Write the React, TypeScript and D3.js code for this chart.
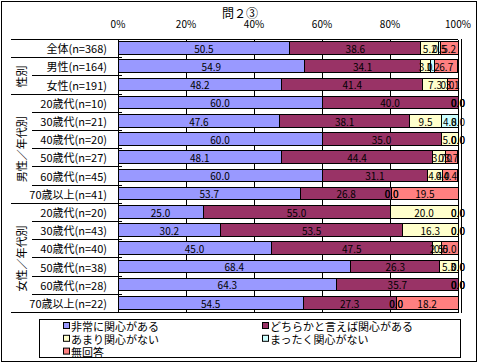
import React from 'react';
import * as d3 from 'd3';

const categories = [
  '全体(n=368)', '男性(n=164)', '女性(n=191)',
  '20歳代(n=10)', '30歳代(n=21)', '40歳代(n=20)', '50歳代(n=27)', '60歳代(n=45)', '70歳以上(n=41)',
  '20歳代(n=20)', '30歳代(n=43)', '40歳代(n=40)', '50歳代(n=38)', '60歳代(n=28)', '70歳以上(n=22)',
];

const seriesNames = ['非常に関心がある', 'どちらかと言えば関心がある', 'あまり関心がない', 'まったく関心がない', '無回答'];
const seriesColors = ['#9999FF', '#993366', '#FFFFCC', '#CCFFFF', '#FF8080'];

const veryInterested = [50.5, 54.9, 48.2, 60.0, 47.6, 60.0, 48.1, 60.0, 53.7, 25.0, 30.2, 45.0, 68.4, 64.3, 54.5];
const somewhatInterested = [38.6, 34.1, 41.4, 40.0, 38.1, 35.0, 44.4, 31.1, 26.8, 55.0, 53.5, 47.5, 26.3, 35.7, 27.3];
const notVery = [5.2, 3.0, 7.3, 0.0, 9.5, 5.0, 3.7, 4.4, 0.0, 20.0, 16.3, 2.5, 5.3, 0.0, 0.0];
const notAtAll = [0.5, 1.2, 0.0, 0.0, 4.8, 0.0, 0.0, 0.0, 0.0, 0.0, 0.0, 0.0, 0.0, 0.0, 0.0];
const noAnswer = [5.2, 6.7, 3.1, 0.0, 0.0, 0.0, 3.7, 4.4, 19.5, 0.0, 0.0, 5.0, 0.0, 0.0, 18.2];

const groupLabels = ['性別', '男性／年代別', '女性／年代別'];
const groupStart = [1, 3, 9];
const groupEnd = [2, 8, 14];

const ticks = [0, 20, 40, 60, 80, 100];

const W = 480;
const H = 364;
const font = '"Noto Sans CJK JP", sans-serif';

export default function App() {
  const x = d3.scaleLinear().domain([0, 100]).range([118, 458]);
  const y = d3.scaleBand<number>().domain(d3.range(categories.length)).range([40, 313]);
  const bh = 12.6;

  const rows = categories.map((c, i) => ({
    i,
    values: [veryInterested[i], somewhatInterested[i], notVery[i], notAtAll[i], noAnswer[i]],
  }));
  const stacked = rows.map(r => {
    let acc = 0;
    return r.values.map((v, k) => {
      const s = { x0: acc, x1: acc + v, v, k };
      acc += v;
      return s;
    });
  });

  const top = y(0)!;
  const bottom = y.range()[1];

  return (
    <svg width={W} height={H} style={{ position: 'absolute', left: 0, top: 0, background: '#fff' }} fontFamily={font}>
      <rect x={1.5} y={1.5} width={475} height={360} fill="#fff" stroke="#000" />
      <text x={240} y={12} textAnchor="middle" dominantBaseline="central" fontSize={12}>問２③</text>

      {ticks.map(t => (
        <text key={t} x={x(t)} y={23} textAnchor="middle" dominantBaseline="central" fontSize={10}>{t}%</text>
      ))}

      {/* gridlines */}
      {ticks.slice(1).map(t => (
        <line key={t} x1={Math.round(x(t)) + 0.5} x2={Math.round(x(t)) + 0.5} y1={top} y2={bottom} stroke="#000" />
      ))}

      {/* bars */}
      <g shapeRendering="crispEdges">
        {stacked.map((segs, i) => segs.map(s => (
          <rect key={`${i}-${s.k}`} x={x(s.x0)} y={y(i)! + 1.6} width={Math.max(0, x(s.x1) - x(s.x0))} height={bh}
            fill={seriesColors[s.k]} stroke={s.v > 0 ? '#000' : 'none'} strokeWidth={1} />
        )))}
      </g>

      {stacked.map((segs, i) => segs.map(s => (
        <text key={`l${i}-${s.k}`} x={(x(s.x0) + x(s.x1)) / 2} y={y(i)! + 8.2} textAnchor="middle"
          dominantBaseline="central" fontSize={10}>{s.v.toFixed(1)}</text>
      )))}

      {/* axis frame */}
      <line x1={11} x2={458} y1={top - 0.5} y2={top - 0.5} stroke="#000" />
      <line x1={11} x2={458} y1={bottom - 0.5} y2={bottom - 0.5} stroke="#000" />
      <line x1={118.5} x2={118.5} y1={top - 1} y2={bottom} stroke="#000" />
      <line x1={461.5} x2={461.5} y1={top - 1} y2={bottom} stroke="#000" />

      {/* category separators */}
      {d3.range(1, categories.length).map(i => {
        const yy = Math.round(y(i)!) - 0.5;
        const x0 = groupStart.includes(i) ? 11 : 32;
        return <line key={`s${i}`} x1={x0} x2={122} y1={yy} y2={yy} stroke="#000" />;
      })}

      {categories.map((c, i) => (
        <text key={`c${i}`} x={107} y={y(i)! + y.bandwidth() / 2 - 1} textAnchor="end" dominantBaseline="central" fontSize={11}>{c}</text>
      ))}

      {groupLabels.map((g, k) => {
        const cy = (y(groupStart[k])! + y(groupEnd[k])! + y.bandwidth()) / 2;
        return (
          <text key={g} transform={`translate(21,${cy}) rotate(-90)`} textAnchor="middle" dominantBaseline="central" fontSize={11}>{g}</text>
        );
      })}

      {/* legend */}
      <rect x={39.5} y={319.5} width={421} height={38} fill="#fff" stroke="#000" />
      {seriesNames.map((n, k) => {
        const col = k % 2;
        const row = Math.floor(k / 2);
        const lx = col === 0 ? 63 : 262;
        const ly = 326 + row * 12.8;
        return (
          <g key={n}>
            <rect x={lx + 0.5} y={ly - 3.5} width={6} height={6} fill={seriesColors[k]} stroke="#000" />
            <text x={lx + 8} y={ly} dominantBaseline="central" fontSize={11}>{n}</text>
          </g>
        );
      })}
    </svg>
  );
}
